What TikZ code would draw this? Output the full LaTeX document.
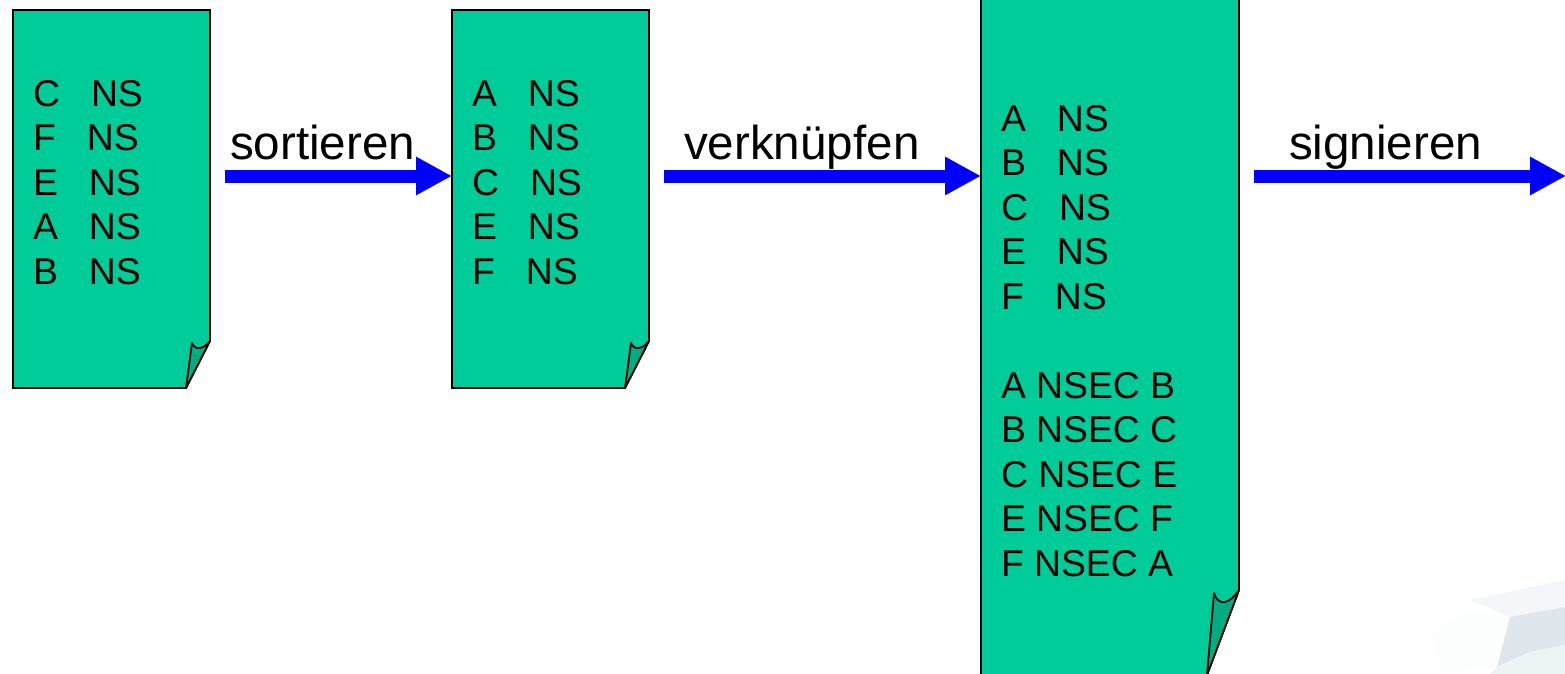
\documentclass[tikz,border=0pt]{standalone}
\usepackage{fontspec}
\setmainfont{Liberation Sans}
\usetikzlibrary{arrows.meta}
\definecolor{sheet}{HTML}{00CC99}
\definecolor{fold}{HTML}{00AD82}
\definecolor{blockarrow}{HTML}{0000FF}
\definecolor{bgA}{HTML}{FCFDFD}
\definecolor{bgB}{HTML}{F4F7F9}
\definecolor{bgC}{HTML}{DFE7EC}
\definecolor{bgD}{HTML}{EDF4F6}
\tikzset{
  x=1pt,y=-1pt,
  sheetline/.style={draw=black,line width=1.8pt,fill=sheet,line join=miter},
  foldline/.style={draw=black,line width=1.8pt,fill=fold,line join=round},
  listing/.style={anchor=north west,inner sep=0pt,outer sep=0pt,align=left,font=\fontsize{37.3}{44.5}\selectfont},
  steplabel/.style={anchor=base west,inner sep=0pt,outer sep=0pt,font=\fontsize{47.6}{50}\selectfont},
  flowarrow/.style={draw=blockarrow,line width=13pt,-{Triangle[length=36pt,width=36pt]},shorten >=0pt}
}
\begin{document}
\begin{tikzpicture}
\useasboundingbox (0,0) rectangle (1565,674);
% faint background artwork
\fill[bgA] (1467,610) -- (1510,617) -- (1497,667) -- (1440,674) -- (1432,640) -- cycle;
\fill[bgB] (1470,600) -- (1565,580) -- (1565,607) -- (1510,617) -- cycle;
\fill[bgC] (1510,617) -- (1565,607) -- (1565,645) -- (1530,652) -- (1497,667) -- cycle;
\fill[bgD] (1565,645) -- (1530,652) -- (1497,667) -- (1490,674) -- (1565,674) -- cycle;
% sheet 1
\coordinate (a1) at (210,341); \coordinate (a2) at (186,388); \coordinate (a3) at (192,343);
\draw[sheetline] (13,10) -- (210,10) -- (a1) -- (a2) -- (13,388) -- cycle;
\draw[foldline] (a2) -- (a3) .. controls (195,351) and (204,349) .. (a1) -- cycle;
% sheet 2
\coordinate (b1) at (649,341); \coordinate (b2) at (625,388); \coordinate (b3) at (631,343);
\draw[sheetline] (452,10) -- (649,10) -- (b1) -- (b2) -- (452,388) -- cycle;
\draw[foldline] (b2) -- (b3) .. controls (634,351) and (643,349) .. (b1) -- cycle;
% sheet 3
\coordinate (c1) at (1239,590); \coordinate (c2) at (1207,675); \coordinate (c3) at (1214,593);
\draw[sheetline] (981,-3) -- (1239,-3) -- (c1) -- (c2) -- (981,677) -- cycle;
\draw[foldline] (c2) -- (c3) .. controls (1218,607) and (1230,604) .. (c1) -- cycle;
% listings
\node[listing] (list1) at (33,80) {C\ \ \ NS\\F\ \ \ NS\\E\ \ \ NS\\A\ \ \ NS\\B\ \ \ NS};
\node[listing] (list2) at (472,80) {A\ \ \ NS\\B\ \ \ NS\\C\ \ \ NS\\E\ \ \ NS\\F\ \ \ NS};
\node[listing] (list3) at (1001,105) {A\ \ \ NS\\B\ \ \ NS\\C\ \ \ NS\\E\ \ \ NS\\F\ \ \ NS\\[44.5pt]A NSEC B\\B NSEC C\\C NSEC E\\E NSEC F\\F NSEC A};
% connectors
\coordinate (p1) at (225,176); \coordinate (q1) at (452,176);
\coordinate (p2) at (664,176); \coordinate (q2) at (981,176);
\coordinate (p3) at (1254,176); \coordinate (q3) at (1566,176);
\draw[flowarrow] (p1) -- (q1);
\draw[flowarrow] (p2) -- (q2);
\draw[flowarrow] (p3) -- (q3);
% labels
\node[steplabel] (s1) at (230,159) {sortieren};
\node[steplabel] (s2) at (684,159) {verknüpfen};
\node[steplabel] (s3) at (1289,159) {signieren};
\end{tikzpicture}
\end{document}
